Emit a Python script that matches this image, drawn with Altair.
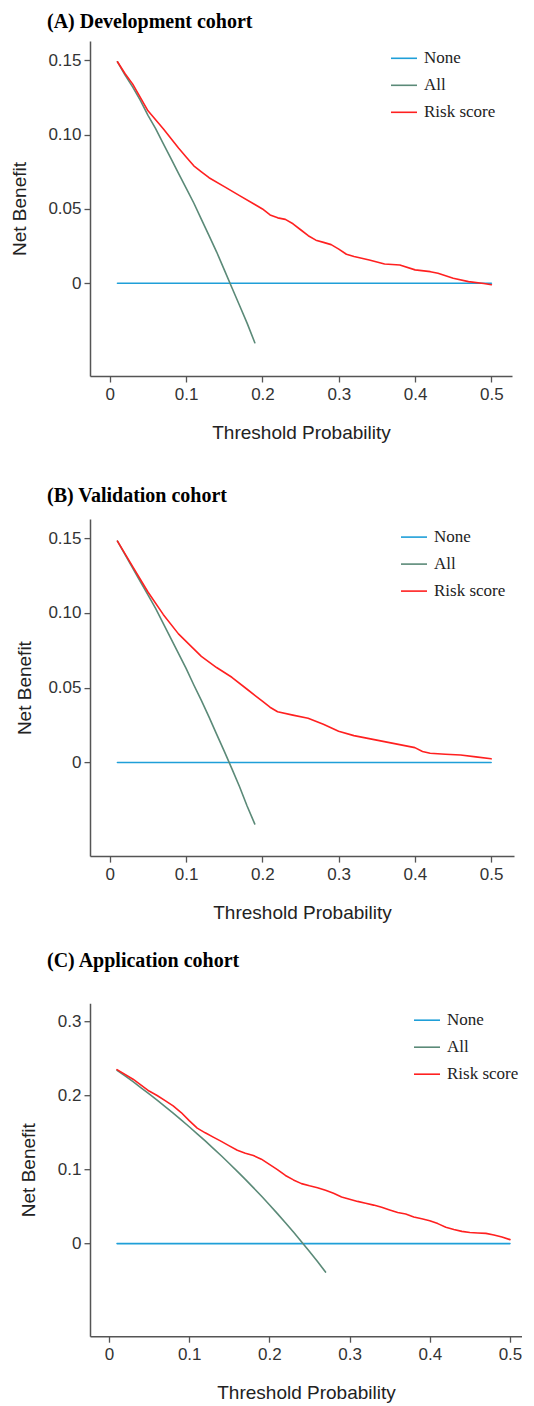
import altair as alt
import pandas as pd

series_names = ["None", "All", "Risk score"]
series_colors = ["#1F9FD8", "#5B8A78", "#FF2020"]
x_ticks = [0, 0.1, 0.2, 0.3, 0.4, 0.5]

none_x = [0.01, 0.5]
none_y = [0.0, 0.0]

# ---------- (A) Development cohort ----------
a_all_x = [0.01, 0.02, 0.03, 0.04, 0.05, 0.06, 0.07, 0.08, 0.09, 0.10,
           0.11, 0.12, 0.13, 0.14, 0.15, 0.16, 0.17, 0.18, 0.19]
a_all_y = [0.149, 0.140, 0.132, 0.123, 0.113, 0.104, 0.094, 0.084, 0.074, 0.064,
           0.054, 0.043, 0.032, 0.021, 0.009, -0.003, -0.015, -0.027, -0.040]
a_risk_x = [0.01, 0.02, 0.03, 0.05, 0.07, 0.09, 0.10, 0.11, 0.12, 0.13, 0.15, 0.17,
            0.19, 0.20, 0.21, 0.22, 0.23, 0.24, 0.25, 0.26, 0.27, 0.28, 0.29, 0.30,
            0.31, 0.32, 0.34, 0.36, 0.38, 0.40, 0.42, 0.43, 0.45, 0.47, 0.49, 0.50]
a_risk_y = [0.149, 0.141, 0.134, 0.116, 0.104, 0.091, 0.085, 0.079, 0.075, 0.071, 0.065, 0.059,
            0.053, 0.050, 0.046, 0.044, 0.043, 0.040, 0.036, 0.032, 0.029, 0.0275, 0.026, 0.023,
            0.0195, 0.018, 0.0157, 0.013, 0.0123, 0.009, 0.0078, 0.0067, 0.0034, 0.0011, -0.0002, -0.001]
a_y_ticks = [0, 0.05, 0.10, 0.15]

# ---------- (B) Validation cohort ----------
b_all_x = [0.01, 0.02, 0.03, 0.04, 0.05, 0.06, 0.07, 0.08, 0.09, 0.10,
           0.11, 0.12, 0.13, 0.14, 0.15, 0.16, 0.17, 0.18, 0.19]
b_all_y = [0.148, 0.139, 0.130, 0.121, 0.112, 0.103, 0.093, 0.083, 0.073, 0.063,
           0.052, 0.0415, 0.0305, 0.019, 0.0076, -0.004, -0.016, -0.029, -0.041]
b_risk_x = [0.01, 0.03, 0.05, 0.07, 0.09, 0.10, 0.12, 0.14, 0.16, 0.18, 0.20, 0.21, 0.22, 0.24,
            0.26, 0.28, 0.30, 0.32, 0.34, 0.36, 0.38, 0.40, 0.41, 0.42, 0.44, 0.46, 0.48, 0.50]
b_risk_y = [0.148, 0.131, 0.114, 0.099, 0.086, 0.081, 0.071, 0.0635, 0.057, 0.049, 0.041, 0.037,
            0.034, 0.0317, 0.0296, 0.0256, 0.021, 0.018, 0.016, 0.014, 0.012, 0.010, 0.0074,
            0.0062, 0.0056, 0.0051, 0.0038, 0.0025]
b_y_ticks = [0, 0.05, 0.10, 0.15]

# ---------- (C) Application cohort ----------
c_all_x = [0.01, 0.02, 0.03, 0.04, 0.05, 0.06, 0.07, 0.08, 0.09, 0.10, 0.11, 0.12, 0.13, 0.14,
           0.15, 0.16, 0.17, 0.18, 0.19, 0.20, 0.21, 0.22, 0.23, 0.24, 0.25, 0.26, 0.27]
c_all_y = [0.234, 0.2265, 0.2186, 0.2104, 0.2021, 0.1936, 0.1849, 0.1761, 0.1670, 0.1578, 0.1483,
           0.1386, 0.1287, 0.1186, 0.1082, 0.0976, 0.0867, 0.0756, 0.0642, 0.0525, 0.0405, 0.0282,
           0.0156, 0.0026, -0.0107, -0.0243, -0.0384]
c_risk_x = [0.01, 0.03, 0.05, 0.06, 0.07, 0.08, 0.09, 0.10, 0.11, 0.12, 0.13, 0.14, 0.15, 0.16,
            0.17, 0.18, 0.19, 0.20, 0.21, 0.22, 0.23, 0.24, 0.25, 0.26, 0.27, 0.28, 0.29, 0.30,
            0.31, 0.32, 0.33, 0.34, 0.35, 0.36, 0.37, 0.38, 0.39, 0.40, 0.41, 0.42, 0.43, 0.44,
            0.45, 0.46, 0.47, 0.48, 0.49, 0.50]
c_risk_y = [0.235, 0.222, 0.206, 0.200, 0.193, 0.186, 0.177, 0.166, 0.156, 0.1496, 0.1438, 0.138,
            0.132, 0.126, 0.122, 0.119, 0.114, 0.107, 0.100, 0.092, 0.086, 0.081, 0.078, 0.0754,
            0.072, 0.068, 0.063, 0.060, 0.057, 0.0545, 0.052, 0.049, 0.0455, 0.042, 0.040, 0.036,
            0.0335, 0.031, 0.027, 0.022, 0.019, 0.0165, 0.015, 0.0143, 0.0138, 0.0116, 0.009, 0.0054]
c_y_ticks = [0, 0.1, 0.2, 0.3]


def make_df(all_x, all_y, risk_x, risk_y):
    rows = []
    for x, y in zip(none_x, none_y):
        rows.append({"series": "None", "x": x, "y": y})
    for x, y in zip(all_x, all_y):
        rows.append({"series": "All", "x": x, "y": y})
    for x, y in zip(risk_x, risk_y):
        rows.append({"series": "Risk score", "x": x, "y": y})
    return pd.DataFrame(rows)


def panel(title, df, xdom, ydom, yticks, yfmt, width, height, leg_x, leg_y,
          y_title_pad, title_offset, title_line_height=None):
    tparams = dict(text=title, anchor="start", frame="group", dx=-43,
                   font="Liberation Serif", fontSize=20, fontWeight="bold",
                   color="black", baseline="bottom", offset=title_offset)
    if title_line_height is not None:
        tparams["lineHeight"] = title_line_height
    return alt.Chart(df).mark_line(strokeCap="round", strokeJoin="round").encode(
        x=alt.X("x:Q", scale=alt.Scale(domain=xdom, nice=False, zero=False),
                axis=alt.Axis(values=x_ticks, title="Threshold Probability",
                              labelExpr="datum.value == 0 ? '0' : format(datum.value, '.1f')",
                              titlePadding=21)),
        y=alt.Y("y:Q", scale=alt.Scale(domain=ydom, nice=False, zero=False),
                axis=alt.Axis(values=yticks, title="Net Benefit",
                              labelExpr="datum.value == 0 ? '0' : format(datum.value, '%s')" % yfmt,
                              titlePadding=y_title_pad)),
        color=alt.Color("series:N",
                        scale=alt.Scale(domain=series_names, range=series_colors),
                        legend=alt.Legend(title=None, orient="none", legendX=leg_x, legendY=leg_y,
                                          symbolType="stroke", symbolSize=676,
                                          symbolStrokeWidth=2.5, labelOffset=6,
                                          labelFont="Liberation Serif", labelFontSize=17,
                                          labelColor="#222222", rowPadding=5, padding=0)),
        strokeWidth=alt.StrokeWidth("series:N",
                                    scale=alt.Scale(domain=series_names, range=[1.6, 1.6, 2.0]),
                                    legend=None),
    ).properties(width=width, height=height, title=alt.TitleParams(**tparams))


chart_a = panel("(A) Development cohort", make_df(a_all_x, a_all_y, a_risk_x, a_risk_y),
                [-0.026, 0.527], [-0.0624, 0.163], a_y_ticks, ".2f", 422, 335,
                300, 3.3, 18, -11)
chart_b = panel(["", "(B)  Validation cohort"], make_df(b_all_x, b_all_y, b_risk_x, b_risk_y),
                [-0.026, 0.53], [-0.0625, 0.1627], b_y_ticks, ".2f", 424, 337,
                310, 4, 13, -6.6, 15)
chart_c = panel("(C) Application cohort", make_df(c_all_x, c_all_y, c_risk_x, c_risk_y),
                [-0.0237, 0.515], [-0.125, 0.3246], c_y_ticks, ".1f", 432, 333,
                323, 3, 19, 12.4)

chart = alt.vconcat(chart_a, chart_b, chart_c, spacing=28.1).resolve_scale(
    x="independent", y="independent", color="independent", strokeWidth="independent"
).resolve_legend(color="independent").properties(
    padding={"left": 2, "top": 4, "right": 0, "bottom": 0}
).configure_view(stroke=None).configure_axis(
    grid=False, domainColor="#555555", domainWidth=1.5, tickColor="#555555", tickWidth=1.3,
    tickSize=6, labelPadding=4, labelFont="Liberation Sans", labelFontSize=17,
    labelColor="#333333", titleFont="Liberation Sans", titleFontSize=19,
    titleFontWeight="normal", titleColor="#222222"
).configure_axisY(labelPadding=3)

chart.save("out.html", embed_options={"renderer": "svg", "actions": False})
